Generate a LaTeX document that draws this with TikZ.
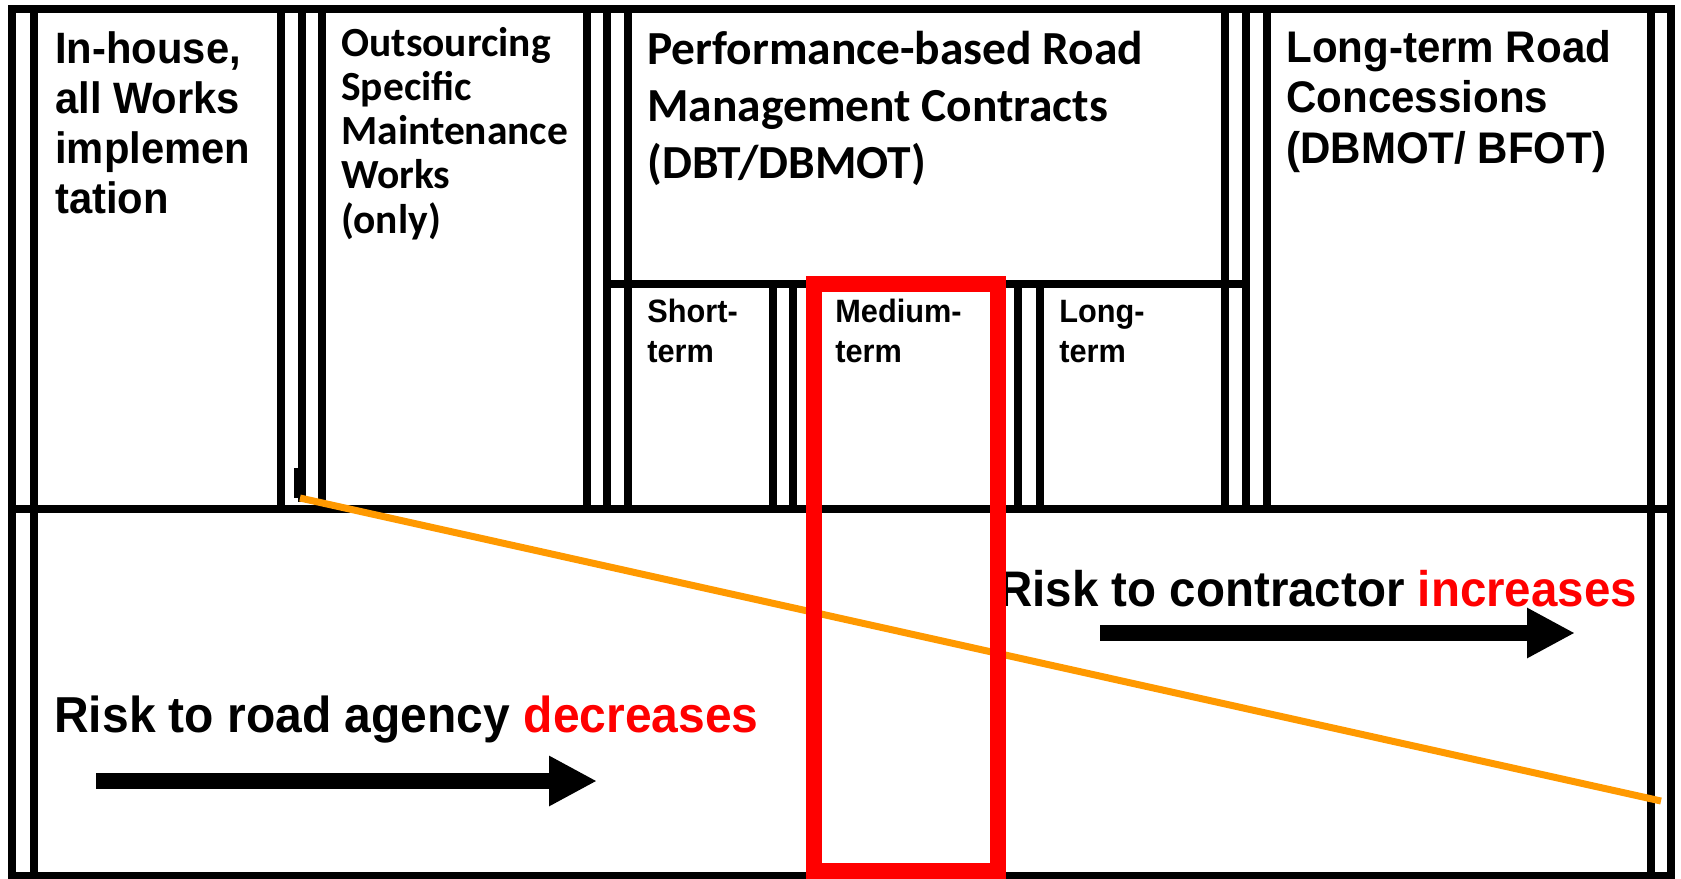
\documentclass[tikz,border=0pt]{standalone}
\usepackage{fontspec}
\usetikzlibrary{arrows.meta}
\newfontfamily\arialfont[FakeStretch=0.95]{Liberation Sans}
\newfontfamily\calibrifont{Carlito}
\definecolor{riskred}{RGB}{255,0,0}
\definecolor{slopeorange}{RGB}{255,153,0}

\begin{document}
\begin{tikzpicture}[x=0.02cm,y=-0.02cm,
    frame/.style={draw=black,line width=0.155cm,line cap=rect},
    slope/.style={draw=slopeorange,line width=0.14cm},
    focus/.style={draw=riskred,line width=0.32cm},
    bigarrow/.style={-{Triangle[length=0.96cm,width=0.94cm]},line width=0.32cm}]
            \useasboundingbox (0,0) rectangle (1681,879);

            \draw[frame] (12,9) rectangle (1671,876);
            \draw[frame] (34,9) -- (34,876);
            \draw[frame] (1651,9) -- (1651,876);
            \draw[frame] (12,509) -- (1671,509);
            \foreach \x in {281,322,587,607,628,1225,1246,1267}
                \draw[frame] (\x,9) -- (\x,509);
            \draw[frame] (302,9) -- (302,498);
            \draw[line width=0.08cm] (296,468) -- (296,498);
            \draw[frame] (607,284) -- (1246,284);
            \foreach \x in {773,793,1018,1040}
                \draw[frame] (\x,284) -- (\x,509);

            \begin{scope}[every node/.style={anchor=base west,inner sep=0,align=left}]
                \node[font={\arialfont\bfseries\fontsize{25}{28.45}\selectfont}] (inhouse) at (55,213) {In-house,\\all Works\\implemen\\tation};
                \node[font={\calibrifont\bfseries\fontsize{23.6}{25.15}\selectfont}] (outsourcing) at (341,233) {Outsourcing\\Specific\\Maintenance\\Works\\(only)};
                \node[font={\calibrifont\bfseries\fontsize{27}{32.4}\selectfont}] (pbc) at (647,178) {Performance-based Road\\Management Contracts\\(DBT/DBMOT)};
                \node[font={\arialfont\bfseries\fontsize{25.2}{28.7}\selectfont}] (concession) at (1286,163) {Long-term Road\\Concessions\\(DBMOT/ BFOT)};
                \node[font={\arialfont\bfseries\fontsize{18.4}{22.2}\selectfont}] (short) at (647,362) {Short-\\term};
                \node[font={\arialfont\bfseries\fontsize{18.4}{22.2}\selectfont}] (medium) at (835,362) {Medium-\\term};
                \node[font={\arialfont\bfseries\fontsize{18.4}{22.2}\selectfont}] (long) at (1059,362) {Long-\\term};
                \node[font={\arialfont\bfseries\fontsize{28.75}{34}\selectfont}] (agency) at (54,732) {Risk to road agency \textcolor{riskred}{decreases}};
                \node[font={\arialfont\bfseries\fontsize{28.45}{34}\selectfont}] (contractor) at (998,606) {Risk to contractor \textcolor{riskred}{increases}};
            \end{scope}

            \coordinate (slopetop) at (300,498);
            \coordinate (slopebottom) at (1661,801);
            \draw[slope] (slopetop) -- (slopebottom);

            \draw[focus] (814,284) rectangle (998,871);

            \coordinate (agencyfrom) at (96,781);
            \coordinate (agencyto) at (597,781);
            \coordinate (contractorfrom) at (1100,633);
            \coordinate (contractorto) at (1575,633);
            \draw[bigarrow] (agencyfrom) -- (agencyto);
            \draw[bigarrow] (contractorfrom) -- (contractorto);
\end{tikzpicture}
\end{document}
